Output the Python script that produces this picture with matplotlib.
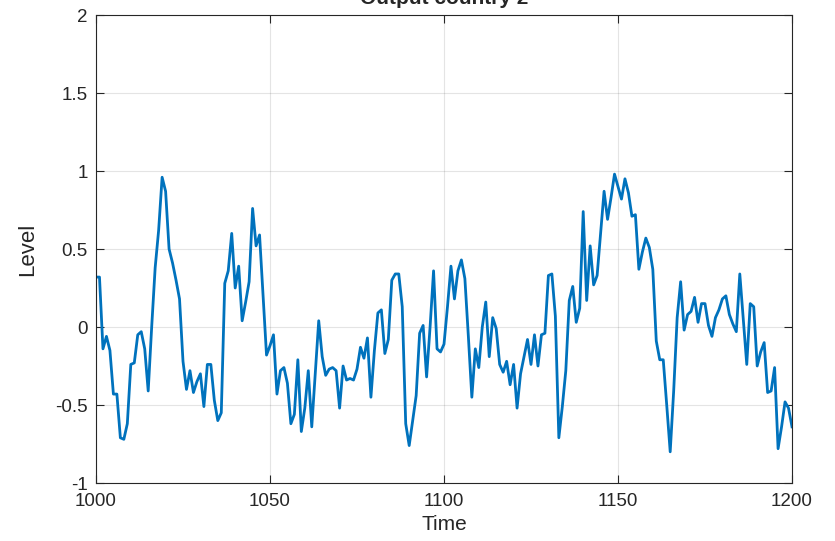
import matplotlib
matplotlib.use("Agg")
import matplotlib.pyplot as plt
import numpy as np

plt.rcParams['font.family'] = ['Liberation Sans', 'DejaVu Sans']
plt.rcParams['axes.unicode_minus'] = False

time = list(range(1000, 1201))
level = [
    0.32, 0.32, -0.14, -0.06, -0.15, -0.43, -0.43, -0.71, -0.72, -0.62,
    -0.24, -0.23, -0.05, -0.03, -0.14, -0.41, 0.00, 0.38, 0.62, 0.96,
    0.87, 0.50, 0.41, 0.30, 0.18, -0.22, -0.40, -0.28, -0.42, -0.35,
    -0.30, -0.51, -0.24, -0.24, -0.47, -0.60, -0.55, 0.28, 0.36, 0.60,
    0.25, 0.39, 0.04, 0.16, 0.29, 0.76, 0.52, 0.59, 0.21, -0.18,
    -0.12, -0.05, -0.43, -0.28, -0.26, -0.36, -0.62, -0.56, -0.21, -0.67,
    -0.52, -0.28, -0.64, -0.30, 0.04, -0.19, -0.31, -0.27, -0.26, -0.28,
    -0.52, -0.25, -0.34, -0.33, -0.34, -0.27, -0.13, -0.20, -0.07, -0.45,
    -0.15, 0.09, 0.11, -0.17, -0.08, 0.30, 0.34, 0.34, 0.13, -0.62,
    -0.76, -0.60, -0.44, -0.04, 0.01, -0.32, 0.00, 0.36, -0.14, -0.16,
    -0.11, 0.13, 0.39, 0.18, 0.36, 0.43, 0.31, -0.06, -0.45, -0.14,
    -0.26, 0.00, 0.16, -0.19, 0.06, -0.01, -0.24, -0.29, -0.22, -0.37,
    -0.24, -0.52, -0.30, -0.19, -0.08, -0.24, -0.05, -0.25, -0.05, -0.04,
    0.33, 0.34, 0.07, -0.71, -0.51, -0.28, 0.17, 0.26, 0.03, 0.12,
    0.74, 0.17, 0.52, 0.27, 0.33, 0.60, 0.87, 0.69, 0.83, 0.98,
    0.90, 0.82, 0.95, 0.86, 0.71, 0.72, 0.37, 0.48, 0.57, 0.51,
    0.37, -0.09, -0.21, -0.21, -0.50, -0.80, -0.41, 0.06, 0.29, -0.02,
    0.08, 0.10, 0.19, 0.03, 0.15, 0.15, 0.01, -0.06, 0.06, 0.11,
    0.18, 0.20, 0.08, 0.02, -0.03, 0.34, 0.05, -0.24, 0.15, 0.13,
    -0.25, -0.16, -0.10, -0.42, -0.41, -0.26, -0.78, -0.64, -0.48, -0.52,
    -0.64,
]

title = "Output country 2"
xlabel = "Time"
ylabel = "Level"
xticks = [1000, 1050, 1100, 1150, 1200]
yticks = [-1, -0.5, 0, 0.5, 1, 1.5, 2]
yticklabels = ["-1", "-0.5", "0", "0.5", "1", "1.5", "2"]

fig = plt.figure(figsize=(8.35, 5.41), dpi=100)
ax = fig.add_axes([96/835, 1 - 483/541, (792-96)/835, (483-15)/541])
ax.plot(time, level, color='#0072BD', linewidth=2.0)
ax.set_xlim(1000, 1200)
ax.set_ylim(-1, 2)
ax.set_xticks(xticks)
ax.set_xticklabels([str(v) for v in xticks])
ax.set_yticks(yticks)
ax.set_yticklabels(yticklabels)
ax.grid(True, color='#262626', alpha=0.12, linewidth=0.8)
ax.set_axisbelow(True)
for s in ax.spines.values():
    s.set_color('#262626')
    s.set_linewidth(0.8)
ax.tick_params(direction='in', top=True, right=True, length=6, width=0.8,
               colors='#262626', labelsize=13.5, labelcolor='#262626')
ax.tick_params(axis='x', pad=7)
ax.tick_params(axis='y', pad=6)
ax.set_xlabel(xlabel, fontsize=15, color='#262626', labelpad=4)
ax.set_ylabel(ylabel, fontsize=16, color='#262626', labelpad=12)
ax.set_title(title, fontsize=15, fontweight='bold', color='#262626', pad=8)
fig.savefig("out.png", dpi=100)
